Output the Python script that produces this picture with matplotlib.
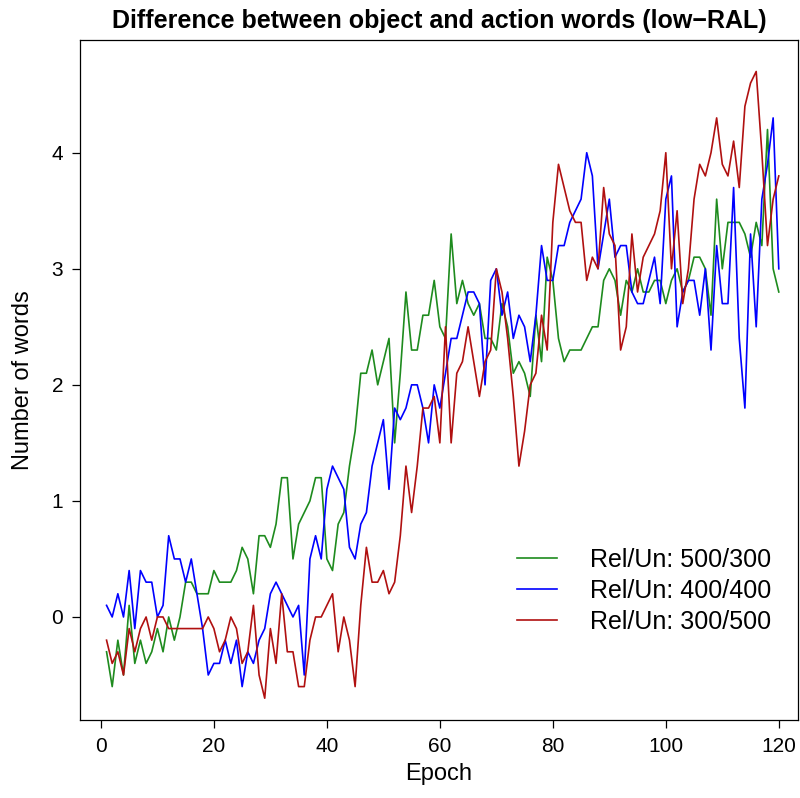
import matplotlib
matplotlib.use("Agg")
import matplotlib.pyplot as plt
import numpy as np

plt.rcParams['font.family'] = ['Liberation Sans', 'DejaVu Sans']

epochs = np.arange(1, 121)

# Rel/Un 500/300
rel500 = [-0.3, -0.6, -0.2, -0.5, 0.1, -0.4, -0.2, -0.4, -0.3, -0.1,
          -0.3, 0.0, -0.2, 0.0, 0.3, 0.3, 0.2, 0.2, 0.2, 0.4,
          0.3, 0.3, 0.3, 0.4, 0.6, 0.5, 0.2, 0.7, 0.7, 0.6,
          0.8, 1.2, 1.2, 0.5, 0.8, 0.9, 1.0, 1.2, 1.2, 0.5,
          0.4, 0.8, 0.9, 1.3, 1.6, 2.1, 2.1, 2.3, 2.0, 2.2,
          2.4, 1.5, 2.1, 2.8, 2.3, 2.3, 2.6, 2.6, 2.9, 2.5,
          2.4, 3.3, 2.7, 2.9, 2.7, 2.6, 2.7, 2.4, 2.4, 2.3,
          2.7, 2.5, 2.1, 2.2, 2.1, 1.9, 2.6, 2.2, 3.1, 2.9,
          2.4, 2.2, 2.3, 2.3, 2.3, 2.4, 2.5, 2.5, 2.9, 3.0,
          2.9, 2.6, 2.9, 2.8, 3.0, 2.8, 2.8, 2.9, 2.9, 2.7,
          2.9, 3.0, 2.8, 2.9, 3.1, 3.1, 3.0, 2.6, 3.6, 3.0,
          3.4, 3.4, 3.4, 3.3, 3.1, 3.4, 3.2, 4.2, 3.0, 2.8]

# Rel/Un 400/400
rel400 = [0.1, 0.0, 0.2, 0.0, 0.4, -0.1, 0.4, 0.3, 0.3, 0.0,
          0.1, 0.7, 0.5, 0.5, 0.3, 0.5, 0.2, -0.1, -0.5, -0.4,
          -0.4, -0.2, -0.4, -0.2, -0.6, -0.3, -0.4, -0.2, -0.1, 0.2,
          0.3, 0.2, 0.1, 0.0, 0.1, -0.5, 0.5, 0.7, 0.5, 1.1,
          1.3, 1.2, 1.1, 0.6, 0.5, 0.8, 0.9, 1.3, 1.5, 1.7,
          1.1, 1.8, 1.7, 1.8, 2.0, 2.0, 1.8, 1.5, 2.0, 1.8,
          2.1, 2.4, 2.4, 2.6, 2.8, 2.8, 2.7, 2.0, 2.9, 3.0,
          2.6, 2.8, 2.4, 2.6, 2.5, 2.2, 2.6, 3.2, 2.9, 2.9,
          3.2, 3.2, 3.4, 3.5, 3.6, 4.0, 3.8, 3.0, 3.3, 3.6,
          3.1, 3.2, 3.2, 2.8, 2.7, 2.7, 2.9, 3.1, 2.7, 3.6,
          3.8, 2.5, 2.8, 2.9, 2.9, 2.6, 3.0, 2.3, 3.2, 2.7,
          2.7, 3.7, 2.4, 1.8, 3.3, 2.5, 3.6, 3.9, 4.3, 3.0]

# Rel/Un 300/500
rel300 = [-0.2, -0.4, -0.3, -0.5, -0.1, -0.3, -0.1, 0.0, -0.2, 0.0,
          0.0, -0.1, -0.1, -0.1, -0.1, -0.1, -0.1, -0.1, 0.0, -0.1,
          -0.3, -0.2, 0.0, -0.1, -0.4, -0.3, 0.1, -0.5, -0.7, -0.1,
          -0.4, 0.2, -0.3, -0.3, -0.6, -0.6, -0.2, 0.0, 0.0, 0.1,
          0.2, -0.3, 0.0, -0.2, -0.6, 0.1, 0.6, 0.3, 0.3, 0.4,
          0.2, 0.3, 0.7, 1.3, 0.9, 1.3, 1.8, 1.8, 1.9, 1.5,
          2.5, 1.5, 2.1, 2.2, 2.5, 2.2, 1.9, 2.2, 2.3, 3.0,
          2.8, 2.4, 1.9, 1.3, 1.6, 2.0, 2.1, 2.6, 2.3, 3.4,
          3.9, 3.7, 3.5, 3.4, 3.4, 2.9, 3.1, 3.0, 3.7, 3.3,
          3.2, 2.3, 2.5, 3.3, 2.8, 3.1, 3.2, 3.3, 3.5, 4.0,
          3.0, 3.5, 2.7, 3.0, 3.6, 3.9, 3.8, 4.0, 4.3, 3.9,
          3.8, 4.1, 3.7, 4.4, 4.6, 4.7, 4.0, 3.2, 3.6, 3.8]

series = [(rel500, '#1e8b1e', 'Rel/Un: 500/300'),
          (rel400, '#0000ff', 'Rel/Un: 400/400'),
          (rel300, '#b01010', 'Rel/Un: 300/500')]

fig = plt.figure(figsize=(8.0, 7.98), dpi=100)
ax = fig.add_axes([0.1, 0.0977, 0.8975, 0.852])

for vals, col, lab in series:
    ax.plot(epochs, vals, color=col, lw=1.2, label=lab)

ax.set_xlim(-3.7, 123.4)
ax.set_ylim(-0.888, 4.97)
ax.set_xticks([0, 20, 40, 60, 80, 100, 120])
ax.set_yticks([0, 1, 2, 3, 4])
ax.tick_params(direction='out', length=6, width=0.9, labelsize=15, pad=6)
for s in ax.spines.values():
    s.set_linewidth(0.9)

ax.set_title('Difference between object and action words (low\u2212RAL)',
             fontsize=18, fontweight='bold', pad=9)
ax.set_xlabel('Epoch', fontsize=17, labelpad=5)
ax.set_ylabel('Number of words', fontsize=17, labelpad=13)

ax.legend(loc='upper left', bbox_to_anchor=(517 / 800, 1 - 548 / 798),
          bbox_transform=fig.transFigure, frameon=False, fontsize=18,
          handlelength=1.6, handletextpad=1.3, labelspacing=0.28,
          borderpad=0, borderaxespad=0)

fig.savefig('out.png', dpi=100)
